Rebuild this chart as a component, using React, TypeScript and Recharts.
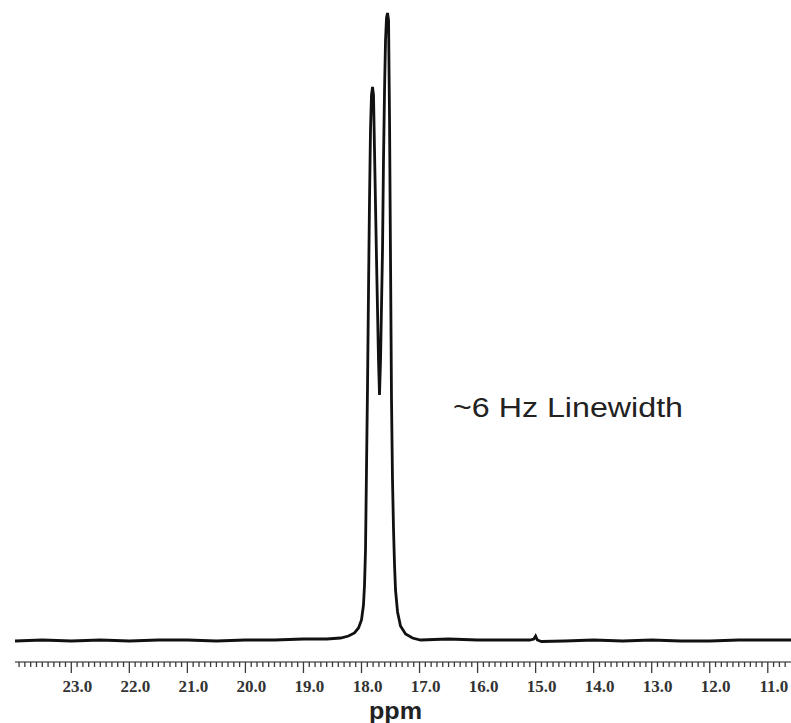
import { LineChart, Line, XAxis, YAxis } from 'recharts';

// ppm position and intensity (pixels above baseline)
const PPM = [
  23.97, 23.5, 23.0, 22.5, 22.0, 21.5, 21.0, 20.5, 20.0, 19.5, 19.0, 18.6,
  18.362, 18.224, 18.121, 18.052, 18.0, 17.966, 17.948, 17.931, 17.914, 17.897,
  17.879, 17.862, 17.845, 17.828, 17.81, 17.793, 17.776, 17.741, 17.707, 17.69,
  17.672, 17.638, 17.621, 17.603, 17.586, 17.569, 17.552, 17.534, 17.517, 17.5,
  17.483, 17.466, 17.448, 17.431, 17.414, 17.379, 17.328, 17.241, 17.121, 16.983,
  16.5, 16.0, 15.5, 15.1, 15.03, 15.0, 14.97, 14.9, 14.5, 14.0, 13.5, 13.0,
  12.5, 12.0, 11.5, 11.0, 10.6,
];
const INTENSITY = [
  -1, 0, -1, 0, -1, 0, 0, -1, 0, 0, 1, 1,
  2, 4, 7, 12, 20, 35, 55, 90, 170, 250,
  350, 440, 510, 545, 553, 545, 490, 380, 280, 245,
  280, 390, 480, 550, 600, 622, 627, 620, 520, 380,
  240, 160, 110, 75, 50, 28, 14, 6, 2, 0,
  1, 0, 0, 0, 1, 4, 0, -1.5, -1, 0, -1, 0,
  -1, -1, 0, 0, 0,
];

const MAJOR_LABELS = ['23.0', '22.0', '21.0', '20.0', '19.0', '18.0', '17.0', '16.0', '15.0', '14.0', '13.0', '12.0', '11.0'];

// minor ticks every 0.1 ppm
const TICKS: number[] = [];
for (let i = 107; i <= 239; i++) TICKS.push(i / 10);

const data = PPM.map((ppm, i) => ({ ppm, v: INTENSITY[i] }));

function PpmTick({ x, y, payload }: any) {
  const val = payload.value as number;
  const major = Math.abs(val - Math.round(val)) < 0.01;
  const label = MAJOR_LABELS.find((l) => Math.abs(parseFloat(l) - val) < 0.01);
  return (
    <g>
      <line x1={x} x2={x} y1={y} y2={y + (major ? 11 : 5)} stroke="#3a3a3a" strokeWidth={1.3} />
      {major && label && (
        <text
          x={x + 6}
          y={y + 30}
          textAnchor="middle"
          fontFamily="'Liberation Serif', serif"
          fontWeight="bold"
          fontSize={17}
          fill="#333"
        >
          {label}
        </text>
      )}
    </g>
  );
}

export default function App() {
  return (
    <div style={{ position: 'absolute', left: 0, top: 0, width: 791, height: 723, background: '#fff' }}>
      <LineChart width={791} height={723} data={data} margin={{ top: 10, right: 0, left: 15, bottom: 0 }}>
        <XAxis
          dataKey="ppm"
          type="number"
          domain={[10.6, 23.97]}
          reversed
          ticks={TICKS}
          interval={0}
          tickSize={0}
          tickMargin={0}
          tickLine={false}
          tick={<PpmTick />}
          height={61}
          axisLine={{ stroke: '#8a8a8a', strokeWidth: 2 }}
          allowDataOverflow
        />
        <YAxis hide domain={[-22, 630]} allowDataOverflow />
        <Line
          type="linear"
          dataKey="v"
          stroke="#111"
          strokeWidth={2.8}
          dot={false}
          activeDot={false}
          isAnimationActive={false}
        />
      </LineChart>
      <svg width={791} height={723} style={{ position: 'absolute', left: 0, top: 0, pointerEvents: 'none' }}>
        <text
          x={453}
          y={417}
          fontFamily="'Liberation Sans', Arial, sans-serif"
          fontSize={27}
          fill="#222"
          textLength={230}
          lengthAdjust="spacingAndGlyphs"
        >
          ~6 Hz Linewidth
        </text>
        <text
          x={369}
          y={719}
          fontFamily="'Liberation Sans', Arial, sans-serif"
          fontWeight="bold"
          fontSize={24}
          fill="#222"
          textLength={53}
          lengthAdjust="spacingAndGlyphs"
        >
          ppm
        </text>
      </svg>
    </div>
  );
}
